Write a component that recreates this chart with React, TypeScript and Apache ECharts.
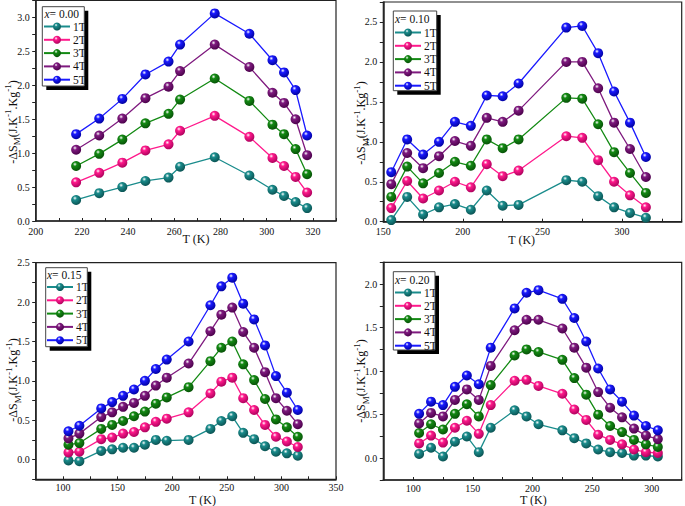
import React, { useEffect, useRef } from "react";
import * as echarts from "echarts";

// ---------- data ----------
const FIELDS = ["1T", "2T", "3T", "4T", "5T"];

// x = 0.00
const T00 = [217.5, 227.5, 237.5, 247.5, 257.5, 262.5, 277.5, 292.5, 302.5, 307.5, 312.5, 317.5];
const x00_1T = [0.31, 0.41, 0.5, 0.59, 0.64, 0.8, 0.94, 0.67, 0.46, 0.37, 0.28, 0.19];
const x00_2T = [0.57, 0.71, 0.86, 1.04, 1.13, 1.33, 1.55, 1.24, 0.93, 0.81, 0.65, 0.42];
const x00_3T = [0.81, 0.99, 1.2, 1.44, 1.58, 1.79, 2.1, 1.77, 1.42, 1.28, 1.06, 0.69];
const x00_4T = [1.05, 1.26, 1.51, 1.81, 1.98, 2.21, 2.6, 2.27, 1.89, 1.74, 1.5, 0.97];
const x00_5T = [1.28, 1.51, 1.8, 2.16, 2.35, 2.6, 3.06, 2.76, 2.37, 2.19, 1.93, 1.26];

// x = 0.10
const T10 = [155, 165, 175, 185, 195, 205, 215, 225, 235, 265, 275, 285, 295, 305, 315];
const x10_1T = [0.02, 0.31, 0.09, 0.18, 0.22, 0.15, 0.39, 0.2, 0.21, 0.52, 0.5, 0.32, 0.18, 0.11, 0.05];
const x10_2T = [0.17, 0.51, 0.29, 0.39, 0.5, 0.43, 0.72, 0.57, 0.64, 1.07, 1.05, 0.77, 0.5, 0.33, 0.18];
const x10_3T = [0.31, 0.69, 0.48, 0.61, 0.75, 0.7, 1.03, 0.92, 1.03, 1.55, 1.54, 1.22, 0.87, 0.61, 0.36];
const x10_4T = [0.47, 0.86, 0.67, 0.82, 1.01, 0.95, 1.3, 1.25, 1.39, 2.0, 2.0, 1.67, 1.24, 0.91, 0.56];
const x10_5T = [0.62, 1.03, 0.84, 1.0, 1.25, 1.2, 1.58, 1.57, 1.73, 2.43, 2.45, 2.11, 1.63, 1.24, 0.81];

// x = 0.15
const T15 = [105, 115, 135, 145, 155, 165, 175, 185, 195, 215, 235, 245, 255, 265, 275, 285, 295, 305, 315];
const x15_1T = [-0.01, -0.02, 0.11, 0.13, 0.15, 0.15, 0.19, 0.25, 0.24, 0.25, 0.39, 0.49, 0.55, 0.34, 0.26, 0.17, 0.1, 0.08, 0.05];
const x15_2T = [0.09, 0.1, 0.26, 0.28, 0.33, 0.35, 0.41, 0.48, 0.52, 0.6, 0.84, 0.99, 1.04, 0.78, 0.63, 0.44, 0.29, 0.23, 0.16];
const x15_3T = [0.19, 0.21, 0.39, 0.44, 0.49, 0.55, 0.61, 0.71, 0.79, 0.92, 1.25, 1.42, 1.5, 1.21, 1.01, 0.77, 0.51, 0.41, 0.29];
const x15_4T = [0.27, 0.33, 0.54, 0.6, 0.67, 0.72, 0.81, 0.94, 1.04, 1.22, 1.63, 1.84, 1.93, 1.62, 1.42, 1.11, 0.78, 0.62, 0.45];
const x15_5T = [0.36, 0.43, 0.65, 0.73, 0.81, 0.89, 1.0, 1.15, 1.27, 1.5, 1.96, 2.2, 2.31, 1.98, 1.78, 1.45, 1.06, 0.85, 0.63];

// x = 0.20
const T20 = [105, 115, 125, 135, 145, 155, 165, 185, 195, 205, 225, 235, 245, 255, 265, 275, 285, 295, 305];
const x20_1T = [0.05, 0.12, 0.02, 0.19, 0.25, 0.07, 0.35, 0.55, 0.48, 0.39, 0.32, 0.23, 0.17, 0.1, 0.07, 0.06, 0.03, 0.03, 0.02];
const x20_2T = [0.17, 0.26, 0.18, 0.35, 0.43, 0.28, 0.61, 0.89, 0.9, 0.83, 0.74, 0.56, 0.44, 0.27, 0.21, 0.16, 0.1, 0.07, 0.06];
const x20_3T = [0.29, 0.39, 0.33, 0.51, 0.62, 0.48, 0.84, 1.18, 1.25, 1.22, 1.13, 0.92, 0.73, 0.5, 0.37, 0.3, 0.21, 0.16, 0.13];
const x20_4T = [0.4, 0.52, 0.48, 0.67, 0.79, 0.67, 1.06, 1.47, 1.59, 1.59, 1.49, 1.27, 1.04, 0.76, 0.58, 0.47, 0.34, 0.26, 0.22];
const x20_5T = [0.51, 0.65, 0.61, 0.82, 0.95, 0.85, 1.27, 1.72, 1.9, 1.93, 1.83, 1.61, 1.34, 1.03, 0.79, 0.65, 0.49, 0.37, 0.32];

const PANEL_LABELS = ["0.00", "0.10", "0.15", "0.20"];
const PANEL_T = [T00, T10, T15, T20];
const PANEL_VALUES = [
  [x00_1T, x00_2T, x00_3T, x00_4T, x00_5T],
  [x10_1T, x10_2T, x10_3T, x10_4T, x10_5T],
  [x15_1T, x15_2T, x15_3T, x15_4T, x15_5T],
  [x20_1T, x20_2T, x20_3T, x20_4T, x20_5T],
];

// ---------- layout / style ----------
const FONT = "'Liberation Serif', 'Times New Roman', serif";
const LINE_COLORS = ["#1a8c8c", "#ff1a8c", "#138a13", "#7f1a7f", "#1a1aff"];
const DARK_COLORS = ["#0a5050", "#a8005a", "#074f07", "#480048", "#00009c"];

const GRIDS = [
  { left: 35.7, top: 0.5, width: 300.3, height: 220.5 },
  { left: 383.3, top: 2, width: 298.4, height: 219.7 },
  { left: 35.7, top: 262.7, width: 300.3, height: 216.6 },
  { left: 383.3, top: 262.3, width: 298.4, height: 217.7 },
];
const X_AXES = [
  { min: 200, max: 330, step: 10, major: 20, margin: 5 },
  { min: 150, max: 337.5, step: 25, major: 50, margin: 5 },
  { min: 75, max: 350, step: 25, major: 50, margin: 3.5 },
  { min: 75, max: 325, step: 25, major: 50, margin: 3.5 },
];
const Y_AXES = [
  { min: 0, max: 3.25, step: 0.25, major: 0.5 },
  { min: 0, max: 2.75, step: 0.25, major: 0.5 },
  { min: -0.25, max: 2.5, step: 0.25, major: 0.5 },
  { min: -0.25, max: 2.25, step: 0.25, major: 0.5 },
];
const LEGEND_BOX = [
  { x: 42.3, y: 6.7, w: 42, h: 79.3, titleX: 44.5, titleY: 14, itemTop: 20.5, iconLeft: 43 },
  { x: 393.3, y: 11, w: 43.4, h: 79.7, titleX: 395, titleY: 19, itemTop: 26.5, iconLeft: 394 },
  { x: 45.7, y: 267.7, w: 41.6, h: 79, titleX: 47, titleY: 274.5, itemTop: 281, iconLeft: 46 },
  { x: 393.3, y: 271.7, w: 41.7, h: 78.3, titleX: 395, titleY: 279.5, itemTop: 286.5, iconLeft: 394 },
];
const YNAME_POS = [
  { x: 12.5, y: 122 },
  { x: 361, y: 123 },
  { x: 13, y: 380 },
  { x: 361, y: 381 },
];
const XNAME_POS = [
  { x: 196, y: 238.5 },
  { x: 521.7, y: 239.5 },
  { x: 202.5, y: 499.5 },
  { x: 533.3, y: 500 },
];

function isMultiple(v: number, m: number) {
  const r = v / m;
  return Math.abs(r - Math.round(r)) < 1e-6;
}

function sphere(i: number) {
  return {
    type: "radial",
    x: 0.38,
    y: 0.32,
    r: 0.72,
    colorStops: [
      { offset: 0, color: "#ffffff" },
      { offset: 0.28, color: LINE_COLORS[i] },
      { offset: 1, color: DARK_COLORS[i] },
    ],
  };
}

function buildOption() {
  const grid = GRIDS.map((g) => ({
    ...g,
    show: true,
    borderColor: "#222",
    borderWidth: 1.2,
    containLabel: false,
  }));

  const xAxis = X_AXES.map((a, gi) => ({
    type: "value",
    gridIndex: gi,
    min: a.min,
    max: a.max,
    interval: a.step,
    axisLine: { onZero: false, lineStyle: { color: "#222", width: 1.5 } },
    axisTick: { show: true, inside: true, length: 3, lineStyle: { color: "#222", width: 1 } },
    splitLine: { show: false },
    axisLabel: {
      fontFamily: FONT,
      fontSize: 10,
      color: "#111",
      margin: a.margin,
      formatter: (v: number) => (isMultiple(v, a.major) ? String(Math.round(v)) : ""),
    },
  }));

  const yAxis = Y_AXES.map((a, gi) => ({
    type: "value",
    gridIndex: gi,
    min: a.min,
    max: a.max,
    interval: a.step,
    axisLine: { onZero: false, lineStyle: { color: "#222", width: 1.5 } },
    axisTick: { show: true, inside: false, length: 3.5, lineStyle: { color: "#222", width: 1 } },
    splitLine: { show: false },
    axisLabel: {
      fontFamily: FONT,
      fontSize: 10,
      color: "#111",
      margin: 6,
      formatter: (v: number) => (isMultiple(v, a.major) ? v.toFixed(1) : ""),
    },
  }));

  const series: any[] = [];
  PANEL_VALUES.forEach((panel, gi) => {
    panel.forEach((vals, si) => {
      series.push({
        type: "line",
        name: FIELDS[si],
        xAxisIndex: gi,
        yAxisIndex: gi,
        data: PANEL_T[gi].map((t, k) => [t, vals[k]]),
        symbol: "circle",
        symbolSize: 10,
        showSymbol: true,
        lineStyle: { color: LINE_COLORS[si], width: 1.3 },
        itemStyle: { color: sphere(si), borderWidth: 0 },
        z: 2,
      });
    });
  });

  const legend = LEGEND_BOX.map((b) => ({
    show: true,
    orient: "vertical",
    left: b.iconLeft,
    top: b.itemTop,
    padding: 0,
    itemWidth: 26,
    itemHeight: 10,
    itemGap: 1.3,
    data: FIELDS,
    selectedMode: false,
    textStyle: { fontFamily: FONT, fontSize: 11.5, color: "#111", padding: [0, 0, 0, -2] },
    z: 8,
  }));

  const graphic: any[] = [];
  LEGEND_BOX.forEach((b, gi) => {
    graphic.push({
      type: "rect",
      shape: { x: b.x + 4, y: b.y + 4, width: b.w, height: b.h },
      style: { fill: "#000" },
      z: 4,
      silent: true,
    });
    graphic.push({
      type: "rect",
      shape: { x: b.x, y: b.y, width: b.w, height: b.h },
      style: { fill: "#fff", stroke: "#444", lineWidth: 1 },
      z: 5,
      silent: true,
    });
    graphic.push({
      type: "text",
      x: b.titleX,
      y: b.titleY,
      z: 6,
      silent: true,
      style: {
        text: "{i|x}{n|= " + PANEL_LABELS[gi] + "}",
        align: "left",
        verticalAlign: "middle",
        rich: {
          i: { fontFamily: FONT, fontSize: 11.5, fontStyle: "italic", fill: "#111" },
          n: { fontFamily: FONT, fontSize: 11.5, fill: "#111" },
        },
      },
    });
  });
  YNAME_POS.forEach((p) => {
    graphic.push({
      type: "text",
      x: p.x,
      y: p.y,
      rotation: Math.PI / 2,
      z: 6,
      silent: true,
      style: {
        text: "{n|-ΔS}{s|M}{n|(J.K}{p|-1}{n|.Kg}{p|-1}{n|)}",
        align: "center",
        verticalAlign: "middle",
        rich: {
          n: { fontFamily: FONT, fontSize: 12, lineHeight: 18, verticalAlign: "middle", fill: "#111" },
          s: { fontFamily: FONT, fontSize: 9, lineHeight: 10, verticalAlign: "bottom", fill: "#111" },
          p: { fontFamily: FONT, fontSize: 9, lineHeight: 10, verticalAlign: "top", fill: "#111" },
        },
      },
    });
  });
  XNAME_POS.forEach((p) => {
    graphic.push({
      type: "text",
      x: p.x,
      y: p.y,
      z: 6,
      silent: true,
      style: {
        text: "T (K)",
        fontFamily: FONT,
        fontSize: 12,
        fill: "#111",
        align: "center",
        verticalAlign: "middle",
      },
    });
  });

  return {
    animation: false,
    backgroundColor: "#fff",
    grid,
    xAxis,
    yAxis,
    series,
    legend,
    graphic,
  };
}

export default function App() {
  const ref = useRef<HTMLDivElement>(null);
  useEffect(() => {
    if (!ref.current) return;
    const chart = echarts.init(ref.current, null, { renderer: "svg" });
    chart.setOption(buildOption() as any);
    return () => chart.dispose();
  }, []);
  return (
    <div
      ref={ref}
      style={{ position: "fixed", left: 0, top: 0, width: 685, height: 506, background: "#fff" }}
    />
  );
}
